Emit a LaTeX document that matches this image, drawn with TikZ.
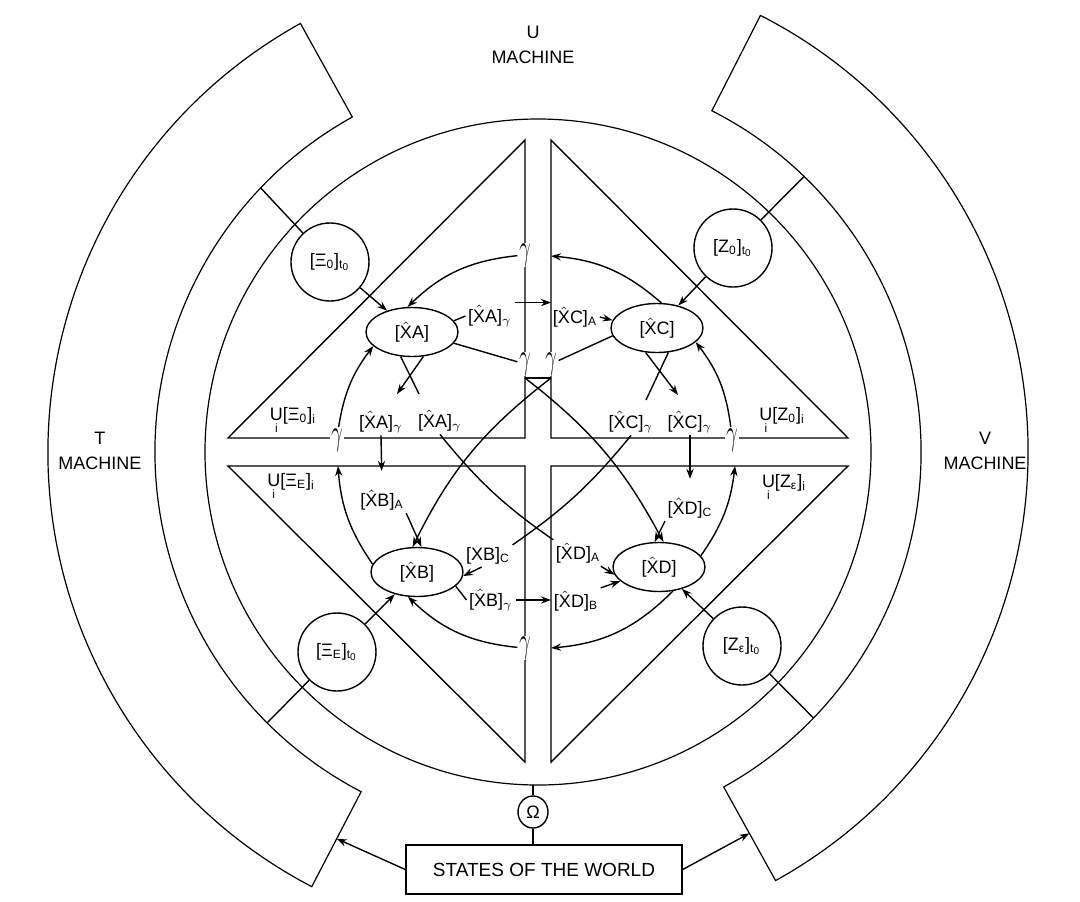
\documentclass[tikz,border=0pt]{standalone}
\usepackage{fontspec}
\setmainfont{Liberation Sans}
\usepackage{amsmath}
\usepackage{graphicx}
\usetikzlibrary{arrows.meta, shapes.geometric}

\newcommand{\hX}{$\hat{\text{X}}$}
\newcommand{\lsub}[1]{\textsubscript{#1}}
\newcommand{\gsub}{\lsub{$\gamma$}}
\newcommand{\gbig}{\scalebox{0.7}[1.25]{\fontsize{14}{14}\selectfont$\gamma$}}
\newcommand{\Ui}{$\underset{\text{i}}{\text{U}}$}

\begin{document}
\begin{tikzpicture}[x=0.5pt, y=0.5pt, line width=0.7pt,
  every node/.style={font=\fontsize{9}{12.5}\selectfont},
  prior/.style={draw, circle, minimum size=39pt, inner sep=0pt},
  belief/.style={draw, ellipse, minimum width=46pt, minimum height=24.5pt, inner sep=0pt},
  gnode/.style={fill=white, inner sep=0.6pt},
  lbl/.style={inner sep=1pt},
  arrow/.style={-{Stealth[length=5pt, width=3.6pt]}},
]
\useasboundingbox (-538,-449) rectangle (542,452);

% T and V machines, middle ring
\draw[line width=0.6pt] (119:490) arc[start angle=119, end angle=242.5, radius=490]
  -- (242.5:383) arc[start angle=242.5, end angle=119, radius=383] -- cycle;
\draw[line width=0.6pt] (-61:490) arc[start angle=-61, end angle=63, radius=490]
  -- (63:383) arc[start angle=63, end angle=-61, radius=383] -- cycle;
\draw[line width=0.6pt] (0,0) circle[radius=333];

% four triangles round the cross
\draw (-13,312) -- (-310,14) -- (-13,14) -- cycle;
\draw (13,312) -- (310,14) -- (13,14) -- cycle;
\draw (-13,-310) -- (-310,-14) -- (-13,-14) -- cycle;
\draw (13,-310) -- (310,-14) -- (13,-14) -- cycle;

\node[align=center] (uMach) at (-5,407) {U\\MACHINE};
\node[align=center] (tMach) at (-438,1) {T\\MACHINE};
\node[align=center] (vMach) at (447,1) {V\\MACHINE};

% coordinates on rings and band
\coordinate (rA) at (136.4:383);
\coordinate (rB) at (46:383);
\coordinate (rC) at (225:383);
\coordinate (rD) at (-44:383);
\coordinate (tT) at (242.5:436);
\coordinate (tV) at (-61:436);
\coordinate (cBot) at (-5,-333);
\coordinate (tTop) at (13,196);
\coordinate (tLeft) at (-200,-14);
\coordinate (tRight) at (197,-14);
\coordinate (tBot) at (13,-196);
\coordinate (tXA) at (13,149);
\coordinate (tXB) at (13,-151);
\coordinate (bowL) at (-13,74);
\coordinate (bowR) at (13,74);
\coordinate (eA1) at (-141,58);
\coordinate (eA2) at (-119,58);
\coordinate (eC1) at (108,52);
\coordinate (eC2) at (140,57);

% priors and beliefs
\node[prior] (xi0) at (-208,190) {[Ξ\lsub{0}]\lsub{t\lsub{0}}};
\node[prior] (z0) at (195,204) {[Z\lsub{0}]\lsub{t\lsub{0}}};
\node[prior] (xiE) at (-201,-200) {[Ξ\lsub{E}]\lsub{t\lsub{0}}};
\node[prior] (zE) at (204,-194) {[Z\lsub{ε}]\lsub{t\lsub{0}}};
\node[belief] (xa) at (-126,120) {[\hX A]};
\node[belief] (xc) at (119,124) {[\hX C]};
\node[belief] (xb) at (-121,-120) {[\hX B]};
\node[belief] (xd) at (121,-115) {[\hX D]};

% gamma marks on the band
\node[gnode] (gTop) at (-13,197) {\gbig};
\node[gnode] (gLeft) at (-201,12) {\gbig};
\node[gnode] (gRight) at (194,12) {\gbig};
\node[gnode] (gBot) at (-13,-196) {\gbig};
\node[gnode] (gPairL) at (-13,88) {\gbig};
\node[gnode] (gPairR) at (13,88) {\gbig};

% labels
\node[lbl] (xaR) at (-48,136) {[\hX A]\gsub};
\node[lbl] (xcA) at (37,135) {[\hX C]\lsub{A}};
\node[lbl] (xaG1) at (-157,30) {[\hX A]\gsub};
\node[lbl] (xaG2) at (-98,31) {[\hX A]\gsub};
\node[lbl] (xcG1) at (93,30) {[\hX C]\gsub};
\node[lbl] (xcG2) at (152,30) {[\hX C]\gsub};
\node[lbl] (uXi0) at (-245,31) {\Ui[Ξ\lsub{0}]\lsub{i}};
\node[lbl] (uZ0) at (244,31) {\Ui[Z\lsub{0}]\lsub{i}};
\node[lbl] (uXiE) at (-247,-35) {\Ui[Ξ\lsub{E}]\lsub{i}};
\node[lbl] (uZE) at (246,-36) {\Ui[Z\lsub{ε}]\lsub{i}};
\node[lbl] (xbA) at (-156,-48) {[\hX B]\lsub{A}};
\node[lbl] (xbC) at (-50,-104) {[XB]\lsub{C}};
\node[lbl] (xbG) at (-47,-148) {[\hX B]\gsub};
\node[lbl] (xdA) at (40,-101) {[\hX D]\lsub{A}};
\node[lbl] (xdB) at (38,-149) {[\hX D]\lsub{B}};
\node[lbl] (xdC) at (152,-56) {[\hX D]\lsub{C}};

% states of the world
\node[draw, ellipse, minimum width=15pt, minimum height=16pt, inner sep=0pt] (om) at (-5,-360) {Ω};
\node[draw, minimum width=138pt, minimum height=24.5pt, font=\fontsize{9.5}{11}\selectfont] (world) at (6,-417.5) {STATES OF THE WORLD};

% outer connectors
\draw (rA) -- (xi0);
\draw[arrow] (xi0) -- (xa);
\draw (rB) -- (z0);
\draw[arrow] (z0) -- (xc);
\draw (rC) -- (xiE);
\draw[arrow] (xiE) -- (xb);
\draw (rD) -- (zE);
\draw[arrow] (zE) -- (xd);

% inner arcs
\draw[arrow] (gTop) to[bend right=19] (xa.100);
\draw[arrow] (xc.80) to[bend right=18] (tTop);
\draw[arrow] (gLeft) to[bend left=14] (xa.200);
\draw[arrow] (xb.170) to[bend left=15] (tLeft);
\draw[arrow] (gRight) to[bend right=15] (xc.-20);
\draw[arrow] (xd.15) to[bend right=14] (tRight);
\draw[arrow] (gBot) to[bend left=19] (xb.-110);
\draw[arrow] (xd.-60) to[bend left=20] (tBot);

% messages through the cross
\draw (xa.-15) -- (gPairL);
\draw (xc.190) -- (gPairR);
\draw (bowL) -- (bowR);
\draw (xa.15) -- (xaR.west);
\draw[arrow] (xaR.north east) -- (xaR.north east -| tXA);
\draw[arrow] (xcA.east) -- (xc.170);
\draw[arrow] (xa.-65) -- (eA1);
\draw (xa.-115) -- (eA2);
\draw (xc.-65) -- (eC1);
\draw[arrow] (xc.-115) -- (eC2);
\draw[arrow, shorten >=8pt] (xaG1.south) -- (xbA.north);
\draw[arrow, shorten >=8pt] (xcG2.south) -- (xdC.north);
\draw[arrow] (xbA.south east) -- (xb.80);
\draw[arrow] (xdC.south west) -- (xd.100);
\draw[arrow] (bowR) to[bend right=13] (xb.100);
\draw[arrow] (bowL) to[bend left=12] (xd.80);
\draw (xaG2.south) to[bend right=8] (xdA.north west);
\draw (xcG1.south) to[bend left=8] (xbC.north east);
\draw[arrow] (xbC.-120) -- (xb.-5);
\draw (xb.-20) -- (xbG.west);
\draw[arrow] (xbG.east) -- (xbG.east -| tXB);
\draw[arrow] (xdA.-30) -- (xd.190);
\draw[arrow] (xdB.north east) -- (xd.200);

% world links
\draw (cBot) -- (om);
\draw (om) -- (om |- world.north);
\draw[arrow] (world.west) -- (tT);
\draw[arrow] (world.east) -- (tV);

\end{tikzpicture}
\end{document}
